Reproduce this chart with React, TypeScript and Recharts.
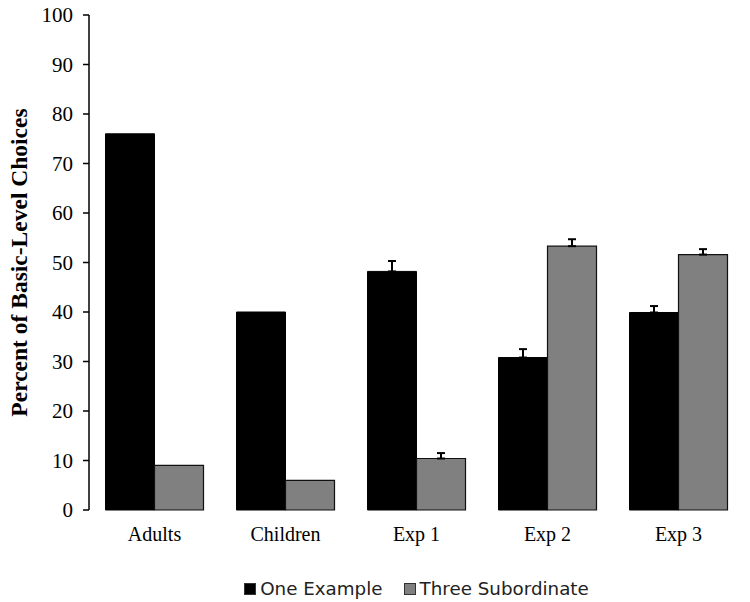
import React from "react";
import { BarChart, Bar, XAxis, YAxis, ErrorBar, Legend, Label } from "recharts";

// values
const groups = ["Adults", "Children", "Exp 1", "Exp 2", "Exp 3"];
const oneExample = [76, 40, 48.2, 30.8, 39.9];
const threeSubordinate = [9, 6, 10.4, 53.3, 51.6];
// upper error only (0 = no error bar shown)
const oneExampleErr = [0, 0, 2.1, 1.7, 1.3];
const threeSubordinateErr = [0, 0, 1.1, 1.4, 1.1];
const yTicks = [0, 10, 20, 30, 40, 50, 60, 70, 80, 90, 100];
const groupEdges = [0, 1, 2, 3, 4, 5];

const data = groups.map((g, i) => ({
  group: g,
  one: oneExample[i],
  three: threeSubordinate[i],
  oneErr: oneExampleErr[i] ? [0, oneExampleErr[i]] : null,
  threeErr: threeSubordinateErr[i] ? [0, threeSubordinateErr[i]] : null,
}));

const serif = "'Liberation Serif', 'Times New Roman', serif";

const YTitle = ({ viewBox }: any) => {
  const cx = viewBox.x + 19;
  const cy = viewBox.y + viewBox.height / 2;
  return (
    <text
      x={cx}
      y={cy}
      transform={`rotate(-90, ${cx}, ${cy})`}
      textAnchor="middle"
      dominantBaseline="central"
      fontFamily={serif}
      fontWeight="bold"
      fontSize={23.5}
      fill="#000"
    >
      Percent of Basic-Level Choices
    </text>
  );
};

const LegendBox = ({ payload }: any) => (
  <div
    style={{
      display: "flex",
      justifyContent: "center",
      paddingTop: 17,
      paddingLeft: 89,
      fontFamily: "'DejaVu Sans', Verdana, sans-serif",
      fontSize: 18.3,
      lineHeight: "20px",
      color: "#222",
    }}
  >
    {(payload || []).map((p: any, i: number) => (
      <span key={p.value} style={{ display: "flex", alignItems: "center", marginLeft: i ? 21 : 0 }}>
        <span
          style={{
            display: "inline-block",
            width: 10,
            height: 10,
            background: p.color,
            border: "1px solid #333",
            marginRight: 4,
          }}
        />
        {p.value}
      </span>
    ))}
  </div>
);

export default function App() {
  return (
    <div style={{ position: "absolute", left: 0, top: 0, background: "#fff" }}>
      <BarChart
        width={750}
        height={602}
        data={data}
        margin={{ top: 15, right: 6, left: 0, bottom: 0 }}
        barCategoryGap="12.6%"
        barGap={0}
      >
        <XAxis
          xAxisId="edge"
          type="number"
          domain={[0, 5]}
          ticks={groupEdges}
          tick={false}
          tickSize={6}
          tickLine={{ stroke: "#000", strokeWidth: 1.5 }}
          axisLine={{ stroke: "#000", strokeWidth: 1.5 }}
          height={0}
          allowDataOverflow
        />
        <XAxis
          dataKey="group"
          axisLine={false}
          tickLine={false}
          tickSize={6}
          tickMargin={11}
          height={52}
          tick={{ fontFamily: serif, fontSize: 20, fill: "#000" }}
        />
        <YAxis
          domain={[0, 100]}
          ticks={yTicks}
          interval={0}
          width={89}
          tickSize={6}
          tickMargin={10}
          axisLine={{ stroke: "#000", strokeWidth: 1.5 }}
          tickLine={{ stroke: "#000", strokeWidth: 1.5 }}
          tick={{ fontFamily: serif, fontSize: 21, fill: "#000" }}
        >
          <Label content={<YTitle />} />
        </YAxis>
        <Legend verticalAlign="bottom" height={40} content={<LegendBox />} />
        <Bar dataKey="one" name="One Example" fill="#000" stroke="#000" strokeWidth={1} isAnimationActive={false}>
          <ErrorBar dataKey="oneErr" direction="y" width={4} stroke="#000" strokeWidth={2} />
        </Bar>
        <Bar dataKey="three" name="Three Subordinate" fill="#808080" stroke="#111" strokeWidth={1.2} isAnimationActive={false}>
          <ErrorBar dataKey="threeErr" direction="y" width={4} stroke="#000" strokeWidth={2} />
        </Bar>
      </BarChart>
    </div>
  );
}
